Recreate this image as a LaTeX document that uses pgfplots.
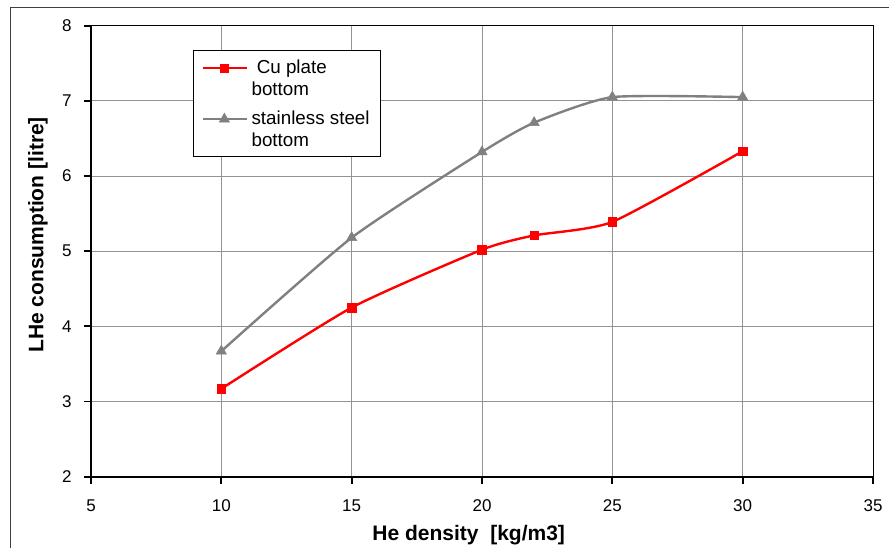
\documentclass[border=0pt]{standalone}
\usepackage{pgfplots}
\pgfplotsset{compat=1.18}
\usepackage{fontspec}
\setmainfont{Liberation Sans}

\begin{document}
\begin{tikzpicture}
\begin{axis}[
  scale only axis, width=782pt, height=451pt,
  xmin=5, xmax=35, ymin=2, ymax=8,
  xtick={5,10,...,35}, ytick={2,3,...,8},
  grid=major, major grid style={draw=gray!85, line width=0.8pt},
  axis line style={line width=1pt, black},
  tick align=outside, xtick pos=bottom, ytick pos=left,
  major tick length=7pt, tick style={line width=1.8pt, black},
  tick label style={font=\fontsize{17}{20}\selectfont},
  /pgf/number format/assume math mode=true,
  xticklabel style={anchor=center, yshift=-22pt},
  yticklabel style={anchor=east, xshift=-9pt},
  xlabel={He density\ \ [kg/m3]},
  ylabel={LHe consumption [litre]},
  label style={font=\fontsize{21}{24}\selectfont\bfseries},
  xlabel style={at={(axis description cs:0.483,0)}, anchor=center, yshift=-58pt},
  ylabel style={at={(axis description cs:-0.0678,0.536)}, anchor=center},
  clip=false,
  legend cell align=left,
  legend style={at={(axis description cs:0.13,0.946)}, anchor=north west,
    draw=black, line width=1pt, inner xsep=9pt, inner ysep=7pt,
    font=\fontsize{18.8}{22}\selectfont, cells={align=left},
    row sep=10pt, column sep=2pt},
  legend image code/.code={\draw[yshift=10pt,mark repeat=2,mark phase=2,#1]
    plot coordinates {(0pt,0pt) (21pt,0pt) (43pt,0pt)};},
]
\addplot[red, line width=2.4pt, smooth, tension=0.35, mark=square*,
  mark options={solid, line width=0.5pt}, mark size=4.3pt] coordinates {
  (10,3.17) (15,4.25) (20,5.02) (22,5.21) (25,5.39) (30,6.33)};
\addlegendentry{\ Cu plate\\bottom}
\addplot[gray, line width=2.4pt, smooth, tension=0.35, mark=triangle*,
  mark options={solid, line width=0.5pt}, mark size=6pt] coordinates {
  (10,3.67) (15,5.18) (20,6.32) (22,6.71) (25,7.05) (30,7.05)};
\addlegendentry{stainless steel\\bottom}
\draw[line width=2.4pt, black] (rel axis cs:0,1) -- (rel axis cs:0,0) -- (rel axis cs:1,0);
\end{axis}
\draw[line width=1pt, black!75] (-80pt,-80pt) -- (-80pt,468.7pt) -- (810pt,468.7pt);
\pgfresetboundingbox
\path[use as bounding box] (-91pt,-70.3pt) rectangle (798pt,476.7pt);
\end{tikzpicture}
\end{document}
